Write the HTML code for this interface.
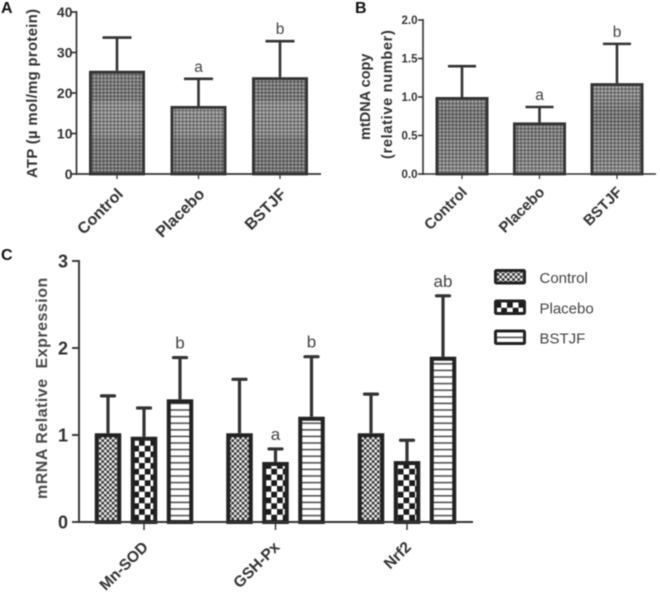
<!DOCTYPE html>
<html>
<head>
<meta charset="utf-8">
<title>ATP, mtDNA and mRNA expression charts</title>
<style>
html,body{margin:0;padding:0;background:#fff;width:660px;height:596px;overflow:hidden}
svg{display:block;filter:blur(0.4px)}
text{font-family:"Liberation Sans",sans-serif}
</style>
</head>
<body>
<svg id="figure" width="660" height="596" viewBox="0 0 660 596" xmlns="http://www.w3.org/2000/svg">
<defs>
<pattern id="fine" width="3.6" height="3.6" patternUnits="userSpaceOnUse">
<rect width="3.6" height="3.6" fill="#7a7a7a"/>
<rect width="1.8" height="1.8" fill="#b4b4b4"/>
<rect x="1.8" y="1.8" width="1.8" height="1.8" fill="#5a5a5a"/>
</pattern>
<linearGradient id="bandsA" gradientUnits="userSpaceOnUse" x1="0" y1="12" x2="0" y2="174">
<stop offset="0" stop-color="#000" stop-opacity="0.02"/>
<stop offset="0.54" stop-color="#000" stop-opacity="0.07"/>
<stop offset="0.56" stop-color="#fff" stop-opacity="0.08"/>
<stop offset="0.76" stop-color="#fff" stop-opacity="0.03"/>
<stop offset="0.78" stop-color="#000" stop-opacity="0.08"/>
<stop offset="1" stop-color="#000" stop-opacity="0.1"/>
</linearGradient>
<linearGradient id="bandsB" gradientUnits="userSpaceOnUse" x1="0" y1="20" x2="0" y2="174">
<stop offset="0" stop-color="#fff" stop-opacity="0.08"/>
<stop offset="0.44" stop-color="#fff" stop-opacity="0.02"/>
<stop offset="0.6" stop-color="#000" stop-opacity="0.1"/>
<stop offset="0.8" stop-color="#000" stop-opacity="0.02"/>
<stop offset="1" stop-color="#fff" stop-opacity="0.08"/>
</linearGradient>
<pattern id="pat-control" width="5.2" height="5.2" patternUnits="userSpaceOnUse">
<rect width="5.2" height="5.2" fill="#f2f2f2"/>
<rect width="2.6" height="2.6" fill="#333"/>
<rect x="2.6" y="2.6" width="2.6" height="2.6" fill="#333"/>
</pattern>
<pattern id="pat-placebo" width="11.5" height="11.5" patternUnits="userSpaceOnUse" x="1" y="3">
<rect width="11.5" height="11.5" fill="#fff"/>
<rect width="5.75" height="5.75" fill="#1c1c1c"/>
<rect x="5.75" y="5.75" width="5.75" height="5.75" fill="#1c1c1c"/>
</pattern>
<pattern id="pat-bstjf" width="8" height="6.6" patternUnits="userSpaceOnUse">
<rect width="8" height="6.6" fill="#fff"/>
<rect width="8" height="1.6" fill="#555"/>
</pattern>
</defs>
<g id="panel-a"></g>
<g id="panel-b"></g>
<g id="panel-c"></g>
<text x="1" y="13" font-size="16" font-weight="bold" fill="#111">A</text>
<text x="355" y="13" font-size="16" font-weight="bold" fill="#111">B</text>
<text x="1" y="260" font-size="16" font-weight="bold" fill="#111">C</text>
<text transform="translate(37,178) rotate(-90)" font-size="14.8" font-weight="bold" fill="#333" letter-spacing="0.35" xml:space="preserve">ATP (µ mol/mg protein)</text>
<text transform="translate(370,140) rotate(-90)" font-size="14.5" font-weight="bold" fill="#333">mtDNA copy</text>
<text transform="translate(392,159) rotate(-90)" font-size="14.5" font-weight="bold" fill="#333" letter-spacing="0.7">(relative number)</text>
<text transform="translate(47,499) rotate(-90)" font-size="16" font-weight="bold" fill="#4a4a4a" letter-spacing="0.5" xml:space="preserve">mRNA Relative  Expression</text>
<g>
<g>
<rect x="495.5" y="270.5" width="29" height="12.5" rx="1" fill="url(#pat-control)" stroke="#222" stroke-width="3"/>
<text x="539.5" y="283" font-size="15" fill="#444">Control</text>
</g>
<g>
<rect x="495.5" y="301" width="29" height="12.5" rx="1" fill="url(#pat-placebo)" stroke="#222" stroke-width="3"/>
<text x="539.5" y="313.5" font-size="15" fill="#444">Placebo</text>
</g>
<g>
<rect x="495.5" y="331" width="29" height="12.5" rx="1" fill="url(#pat-bstjf)" stroke="#222" stroke-width="3"/>
<text x="539.5" y="343.5" font-size="15" fill="#444">BSTJF</text>
</g>
</g>
</svg>
<script>
const categoriesAB = ["Control", "Placebo", "BSTJF"];
const atpMeans = [25.5, 16.8, 23.9];
const atpUpper = [33.7, 23.5, 32.8];
const atpLetters = ["", "a", "b"];
const atpTicks = [0, 10, 20, 30, 40];
const atpTickLabels = ["0", "10", "20", "30", "40"];
const mtdnaMeans = [1.0, 0.67, 1.18];
const mtdnaUpper = [1.40, 0.87, 1.69];
const mtdnaLetters = ["", "a", "b"];
const mtdnaTicks = [0, 0.5, 1, 1.5, 2];
const mtdnaTickLabels = ["0.0", "0.5", "1.0", "1.5", "2.0"];
const genes = ["Mn-SOD", "GSH-Px", "Nrf2"];
const seriesNames = ["control", "placebo", "bstjf"];
const controlMeans = [1.02, 1.02, 1.02];
const controlUpper = [1.45, 1.64, 1.47];
const placeboMeans = [0.98, 0.69, 0.70];
const placeboUpper = [1.31, 0.84, 0.94];
const bstjfMeans = [1.41, 1.21, 1.90];
const bstjfUpper = [1.89, 1.90, 2.60];
const controlLetters = ["", "", ""];
const placeboLetters = ["", "a", ""];
const bstjfLetters = ["b", "b", "ab"];
const mrnaTicks = [0, 1, 2, 3];
const mrnaTickLabels = ["0", "1", "2", "3"];

const NS = "http://www.w3.org/2000/svg";
function mk(tag, attrs, parent) {
  const el = document.createElementNS(NS, tag);
  for (const k in attrs) el.setAttribute(k, attrs[k]);
  parent.appendChild(el);
  return el;
}
function linearY(domMax, y0, yTop) {
  return v => y0 - (v / domMax) * (y0 - yTop);
}

function drawBar(parent, cx, w, mean, upper, y, base, o) {
  const top = y(mean);
  const up = y(upper);
  const bw = o.barStroke;
  const whisker = mk("line", {x1: cx, x2: cx, y1: top, y2: up, stroke: "#333", "stroke-width": o.errStroke}, parent);
  
  
  const cap = mk("line", {x1: cx - o.capHalf, x2: cx + o.capHalf, y1: up, y2: up, stroke: "#333", "stroke-width": o.errStroke, "stroke-linecap": o.capEnd}, parent);
  
  
  const bar = mk("rect", {x: cx - w / 2 + bw / 2, y: top + bw / 2, width: w - bw, height: Math.max(0, base - top - bw / 2), fill: o.fill, stroke: o.stroke, "stroke-width": bw}, parent);
  
  
  if (o.overlay) {
    const band = mk("rect", {x: cx - w / 2 + bw, y: top + bw, width: w - 2 * bw, height: Math.max(0, base - top - bw), fill: o.overlay}, parent);
    
    
  }
  if (o.letter) {
    const t = mk("text", {x: cx, y: up - o.letterGap, "text-anchor": "middle", "font-size": o.letterSize, fill: "#444"}, parent);
    
    
    t.textContent = o.letter;
  }
}

function drawAxes(parent, cfg) {
  const yAxis = mk("line", {x1: cfg.x0, x2: cfg.x0, y1: cfg.y(cfg.yMax) - 1, y2: cfg.base + 1, stroke: "#333", "stroke-width": cfg.axisW}, parent);
  
  
  const xAxis = mk("line", {x1: cfg.x0, x2: cfg.xEnd, y1: cfg.base, y2: cfg.base, stroke: "#333", "stroke-width": cfg.axisW}, parent);
  
  
  cfg.ticks.forEach((v, i) => {
    const yy = cfg.y(v);
    const tick = mk("line", {x1: cfg.x0 - cfg.tickLen, x2: cfg.x0, y1: yy, y2: yy, stroke: "#333", "stroke-width": cfg.axisW}, parent);
    
    
    const lab = mk("text", {x: cfg.x0 - cfg.tickLen - cfg.tickGap, y: yy + cfg.tickSize * 0.36, "text-anchor": "end", "font-size": cfg.tickSize, "font-weight": "bold", fill: "#333"}, parent);
    
    
    lab.textContent = cfg.tickLabels[i];
  });
  cfg.cats.forEach((c, i) => {
    const xx = cfg.xPos(i);
    const tick = mk("line", {x1: xx, x2: xx, y1: cfg.base, y2: cfg.base + cfg.xTickLen, stroke: "#333", "stroke-width": cfg.axisW * 0.75}, parent);
    
    
    const lx = xx + cfg.labelDx;
    const ly = cfg.base + cfg.labelDy;
    const lab = mk("text", {transform: "translate(" + lx + "," + ly + ") rotate(-45)", "text-anchor": "end", "font-size": cfg.labelSize, "font-weight": "bold", fill: "#333"}, parent);
    
    
    lab.textContent = c;
  });
}

/* Panel A */
const gA = document.getElementById("panel-a");
const yA = linearY(40, 174, 12);
const xA = i => 117 + i * 81.5;
atpMeans.forEach((m, i) => drawBar(gA, xA(i), 56, m, atpUpper[i], yA, 174, {
  fill: "url(#fine)", overlay: "url(#bandsA)", stroke: "#333", barStroke: 2.8, errStroke: 2.6, capHalf: 14.5, capEnd: "butt", letter: atpLetters[i], letterGap: 7, letterSize: 15.5
}));
drawAxes(gA, {x0: 76.5, xEnd: 321, base: 174, y: yA, yMax: 40, ticks: atpTicks, tickLabels: atpTickLabels, tickLen: 5, tickGap: -1, tickSize: 14, axisW: 1.7, cats: categoriesAB, xPos: xA, xTickLen: 5, labelDx: 7, labelDy: 21, labelSize: 16});

/* Panel B */
const gB = document.getElementById("panel-b");
const yB = linearY(2, 174, 20);
const xB = i => 462 + i * 77.5;
mtdnaMeans.forEach((m, i) => drawBar(gB, xB(i), 53, m, mtdnaUpper[i], yB, 174, {
  fill: "url(#fine)", overlay: "url(#bandsB)", stroke: "#333", barStroke: 2.8, errStroke: 2.6, capHalf: 14, capEnd: "butt", letter: mtdnaLetters[i], letterGap: 7, letterSize: 15.5
}));
drawAxes(gB, {x0: 423, xEnd: 656, base: 174, y: yB, yMax: 2, ticks: mtdnaTicks, tickLabels: mtdnaTickLabels, tickLen: 5, tickGap: 0.5, tickSize: 11.5, axisW: 1.6, cats: categoriesAB, xPos: xB, xTickLen: 5, labelDx: 6, labelDy: 19, labelSize: 15});

/* Panel C */
const gC = document.getElementById("panel-c");
const yC = linearY(3, 522, 261);
const xC = i => 144 + i * 131.5;
const offsets = [-36, 0, 36];
const cMeans = [controlMeans, placeboMeans, bstjfMeans];
const cUpper = [controlUpper, placeboUpper, bstjfUpper];
const cLetters = [controlLetters, placeboLetters, bstjfLetters];
seriesNames.forEach((s, si) => {
  cMeans[si].forEach((m, gi) => drawBar(gC, xC(gi) + offsets[si], 26.5, m, cUpper[si][gi], yC, 522, {
    fill: "url(#pat-" + s + ")", stroke: "#222", barStroke: 4, errStroke: 3.2, capHalf: 6.5, capEnd: "round", letter: cLetters[si][gi], letterGap: 9, letterSize: 17
  }));
});
drawAxes(gC, {x0: 79, xEnd: 473, base: 522, y: yC, yMax: 3, ticks: mrnaTicks, tickLabels: mrnaTickLabels, tickLen: 7, tickGap: 4, tickSize: 18, axisW: 1.9, cats: genes, xPos: xC, xTickLen: 8, labelDx: 5, labelDy: 26, labelSize: 15.5});
</script>
</body>
</html>
